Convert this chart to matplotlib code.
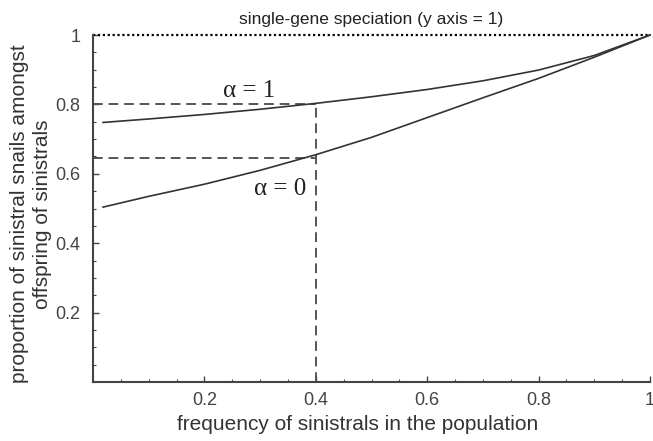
import numpy as np
import matplotlib as mpl
mpl.use("Agg")
import matplotlib.pyplot as plt

# frequency of sinistrals (x) and proportion of sinistral offspring (y)
freq = [0.018, 0.1, 0.2, 0.3, 0.4, 0.5, 0.6, 0.7, 0.8, 0.9, 1.0]
alpha1 = [0.748, 0.758, 0.771, 0.786, 0.803, 0.822, 0.843, 0.868, 0.899, 0.941, 1.0]
alpha0 = [0.504, 0.535, 0.570, 0.610, 0.655, 0.705, 0.762, 0.819, 0.875, 0.936, 1.0]

# guide lines at frequency 0.4
x_guide = 0.4
y_guide_a1 = 0.8
y_guide_a0 = 0.645

tick_vals = [0.2, 0.4, 0.6, 0.8, 1.0]
tick_labels = ["0.2", "0.4", "0.6", "0.8", "1"]

plt.rcParams['font.family'] = ['Liberation Sans', 'DejaVu Sans']

fig = plt.figure(figsize=(6.53, 4.41), dpi=100)
ax = fig.add_axes([93/653, 59/441, 557/653, 347/441])

ink = '#333333'
dash = '#555555'

# dotted reference line at y = 1
ax.plot([0, 1], [1, 1], ls=(0, (1, 1.2)), color='black', lw=1.6, clip_on=False)

# dashed guides
ax.plot([0, x_guide], [y_guide_a1, y_guide_a1], color=dash, lw=1.4, ls=(0, (5, 3)))
ax.plot([0, x_guide], [y_guide_a0, y_guide_a0], color=dash, lw=1.4, ls=(0, (5, 3)))
ax.plot([x_guide, x_guide], [0, y_guide_a1], color=dash, lw=1.4, ls=(0, (5, 3)))

# model curves
ax.plot(freq, alpha1, color=ink, lw=1.2, clip_on=False)
ax.plot(freq, alpha0, color=ink, lw=1.2, clip_on=False)

ax.text(0.28, 0.84, 'α = 1', family='Liberation Serif', fontsize=18,
        ha='center', va='center', color='#222222')
ax.text(0.336, 0.556, 'α = 0', family='Liberation Serif', fontsize=18,
        ha='center', va='center', color='#222222')

ax.set_xlim(0, 1)
ax.set_ylim(0, 1)

for side in ['top', 'right']:
    ax.spines[side].set_visible(False)
for side in ['left', 'bottom']:
    ax.spines[side].set_color('#444444')
    ax.spines[side].set_linewidth(1.5)

ax.set_xticks(tick_vals)
ax.set_xticklabels(tick_labels)
ax.set_yticks(tick_vals)
ax.set_yticklabels(tick_labels)
ax.xaxis.set_minor_locator(mpl.ticker.MultipleLocator(0.05))
ax.yaxis.set_minor_locator(mpl.ticker.MultipleLocator(0.05))
ax.tick_params(which='major', direction='in', length=4, width=1, color='#444444',
               labelsize=13, labelcolor='#444444', pad=7)
ax.tick_params(which='minor', direction='in', length=2.5, width=0.8, color='#444444')
ax.tick_params(axis='y', which='major', pad=9)

ax.set_title('single-gene speciation (y axis = 1)', fontsize=12.5, color='#222222', pad=8)

fig.text(31/653, (441-214)/441, 'proportion of sinistral snails amongst\noffspring of sinistrals',
         rotation=90, ha='center', va='center', fontsize=15, color='#333333',
         linespacing=1.25)
fig.text(358/653, (441-425)/441, 'frequency of sinistrals in the population',
         ha='center', va='center', fontsize=15, color='#333333')

fig.savefig('out.png', dpi=100)
